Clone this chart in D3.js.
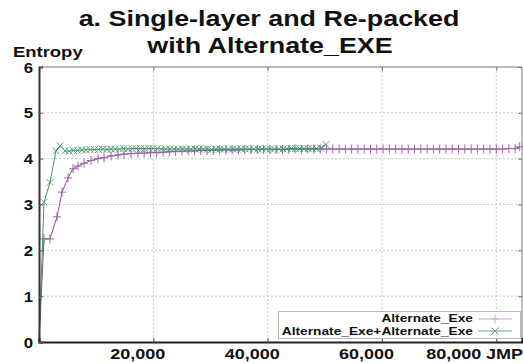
<!DOCTYPE html>
<html><head><meta charset="utf-8">
<script src="https://cdn.jsdelivr.net/npm/d3@7"></script>
<style>
html,body{margin:0;padding:0;background:#fff;}
text{font-family:"Liberation Sans",Arial,sans-serif;font-weight:bold;fill:#111;}
</style></head>
<body><svg id="c" width="523" height="364"></svg>
<script>
const titleLines = ["a. Single-layer and Re-packed", "with Alternate_EXE"];
const yTitle = "Entropy";
const xTitle = "JMP";
const seriesNames = ["Alternate_Exe", "Alternate_Exe+Alternate_Exe"];
const xTicks = [20000, 40000, 60000, 80000];
const yTicks = [0, 1, 2, 3, 4, 5, 6];

const exeX = [0,875,1925,3150,4025,5075,5950,6825,7875,9100,10325,11375,12600,13825,14875,16100,17325,18400,19500,20600,21700,22800,23900,25000,26100,27200,28300,29400,30500,31600,32700,33800,34900,36000,37100,38200,39300,40400,41500,42600,43700,44800,45900,47000,48100,49200,50300,51400,52500,53600,54700,55800,56900,58000,59100,60200,61300,62400,63500,64600,65700,66800,67900,69000,70100,71200,72300,73400,74500,75600,76700,77800,78900,80000,81100,82200,83300,84100];
const exeY = [0,2.25,2.25,2.73,3.27,3.58,3.78,3.84,3.9,3.96,4.0,4.02,4.06,4.08,4.1,4.11,4.12,4.12,4.13,4.13,4.14,4.15,4.16,4.16,4.17,4.17,4.18,4.18,4.18,4.19,4.19,4.19,4.19,4.2,4.2,4.2,4.2,4.2,4.2,4.2,4.2,4.21,4.2,4.21,4.21,4.21,4.21,4.21,4.21,4.21,4.21,4.21,4.21,4.21,4.21,4.21,4.21,4.21,4.21,4.21,4.21,4.21,4.21,4.21,4.21,4.21,4.21,4.21,4.21,4.21,4.21,4.21,4.21,4.21,4.21,4.22,4.22,4.26];

const dblX = [0,875,1925,2975,3700,4550,5300,6000,6750,7500,8200,8950,9700,10400,11150,11900,12600,13350,14100,14800,15550,16300,17000,17750,18500,19200,19950,20700,21400,22150,22900,23600,24350,25100,25800,26550,27300,28000,28750,29500,30200,30950,31700,32400,33150,33900,34600,35350,36100,36800,37550,38300,39000,39750,40500,41200,41950,42700,43400,44150,44900,45600,46350,47100,47800,48550,49300,50200];
const dblY = [0,3.05,3.48,4.17,4.28,4.17,4.16,4.18,4.18,4.19,4.19,4.2,4.2,4.2,4.21,4.2,4.21,4.21,4.21,4.22,4.21,4.22,4.22,4.22,4.22,4.22,4.22,4.22,4.21,4.21,4.21,4.21,4.21,4.21,4.21,4.21,4.21,4.21,4.21,4.21,4.2,4.21,4.21,4.21,4.21,4.21,4.21,4.21,4.21,4.21,4.21,4.21,4.21,4.21,4.21,4.21,4.21,4.21,4.22,4.22,4.22,4.22,4.22,4.22,4.22,4.22,4.23,4.31];

const colExe = "#8a4a95", colExeMark = "#9c62a6";
const colDbl = "#3f9567";
const SX = 1.2;

const svg = d3.select("#c");
const L = 39, R = 522, T = 67, B = 342;
const x = d3.scaleLinear().domain([0, 84500]).range([L, R]);
const y = d3.scaleLinear().domain([0, 6]).range([B, T]);

function stext(str, px, py, size, anchor, sx) {
  svg.append("text").attr("transform", `translate(${px},${py}) scale(${sx},1)`)
    .attr("text-anchor", anchor).style("font-size", size + "px").text(str);
}

// title
stext(titleLines[0], 269, 26, 22, "middle", 1.222);
stext(titleLines[1], 270, 53, 22, "middle", 1.222);
stext(yTitle, 13, 57, 15, "start", 1.23);

// grid
const grid = svg.append("g");
grid.selectAll(".gx").data(xTicks).enter().append("line")
  .attr("x1", d => x(d)).attr("x2", d => x(d)).attr("y1", T).attr("y2", B)
  .attr("stroke", "#c8c8c8").attr("stroke-width", 1).attr("stroke-dasharray", "2,2");
grid.selectAll(".gy").data(yTicks.filter(d => d > 0 && d < 6)).enter().append("line")
  .attr("x1", L).attr("x2", R).attr("y1", d => y(d)).attr("y2", d => y(d))
  .attr("stroke", "#c8c8c8").attr("stroke-width", 1).attr("stroke-dasharray", "2,2");

// frame top/right
svg.append("line").attr("x1", L).attr("x2", R).attr("y1", T).attr("y2", T).attr("stroke", "#777").attr("stroke-width", 1);
svg.append("line").attr("x1", R).attr("x2", R).attr("y1", T).attr("y2", B).attr("stroke", "#777").attr("stroke-width", 1);
svg.append("g").attr("transform", `translate(0,${T})`)
  .call(d3.axisTop(x).tickValues(xTicks).tickSize(-4).tickFormat(""))
  .call(g => { g.select(".domain").remove(); g.selectAll("line").attr("stroke", "#777"); });
svg.append("g").attr("transform", `translate(${R},0)`)
  .call(d3.axisRight(y).tickValues(yTicks).tickSize(-4).tickFormat(""))
  .call(g => { g.select(".domain").remove(); g.selectAll("line").attr("stroke", "#777"); });

// series
const line = d3.line().x(d => x(d[0])).y(d => y(d[1]));
const exeData = exeX.map((v, i) => [v, exeY[i]]);
const dblData = dblX.map((v, i) => [v, dblY[i]]);
const plus = "M-4,0H4M0,-4.5V4.5";
const cross = "M-3.5,-3.5L3.5,3.5M-3.5,3.5L3.5,-3.5";

svg.append("path").datum(exeData).attr("d", line).attr("fill", "none").attr("stroke", colExe).attr("stroke-width", 1);
svg.append("g").selectAll("path").data(exeData.slice(1)).enter().append("path")
  .attr("transform", d => `translate(${x(d[0])},${y(d[1])})`).attr("d", plus)
  .attr("stroke", colExeMark).attr("stroke-width", 1).attr("fill", "none");

svg.append("path").datum(dblData).attr("d", line).attr("fill", "none").attr("stroke", colDbl).attr("stroke-width", 1);
svg.append("g").selectAll("path").data(dblData.slice(1)).enter().append("path")
  .attr("transform", d => `translate(${x(d[0])},${y(d[1])})`).attr("d", cross)
  .attr("stroke", colDbl).attr("stroke-width", 1).attr("fill", "none").attr("opacity", 0.85);

// axes
const fmt = d3.format(",");
const xa = svg.append("g").attr("transform", `translate(0,${B})`)
  .call(d3.axisBottom(x).tickValues(xTicks).tickSize(-4).tickPadding(0).tickFormat(fmt));
xa.select(".domain").attr("stroke", "#222").attr("stroke-width", 2);
xa.selectAll(".tick line").attr("stroke", "#555");
xa.selectAll(".tick text").attr("y", 0).attr("dy", 0)
  .attr("transform", d => `translate(${d === 80000 ? -43 : -16},17) scale(${SX},1)`)
  .style("font-size", "15px").attr("fill", "#111");
stext(xTitle, 486, 359, 15, "start", SX);

const ya = svg.append("g").attr("transform", `translate(${L},0)`)
  .call(d3.axisLeft(y).tickValues(yTicks).tickSize(-4).tickPadding(0).tickFormat(d3.format("d")));
ya.select(".domain").attr("stroke", "#333").attr("stroke-width", 2);
ya.selectAll(".tick line").attr("stroke", "#555");
ya.selectAll(".tick text").attr("x", -5).attr("dy", "0.36em")
  .attr("transform", `scale(${SX},1)`).style("font-size", "14px").attr("fill", "#111");

// legend
const lg = svg.append("g");
lg.append("rect").attr("x", 278.5).attr("y", 311.5).attr("width", 242).attr("height", 27)
  .attr("fill", "#fff").attr("stroke", "#bbb").attr("stroke-width", 1);
const legY = [322, 335];
seriesNames.forEach((n, i) => {
  svg.append("text").attr("transform", `translate(473,${legY[i]}) scale(1.25,1)`)
    .attr("text-anchor", "end").style("font-size", "11px").text(n);
});
lg.append("line").attr("x1", 478).attr("x2", 512).attr("y1", 319).attr("y2", 319).attr("stroke", "#c9a6d0").attr("stroke-width", 1);
lg.append("path").attr("transform", "translate(495,319)").attr("d", plus).attr("stroke", "#c9a6d0").attr("fill", "none");
lg.append("line").attr("x1", 478).attr("x2", 512).attr("y1", 331).attr("y2", 331).attr("stroke", "#5aa97a").attr("stroke-width", 1);
lg.append("path").attr("transform", "translate(495,331)").attr("d", cross).attr("stroke", "#5aa97a").attr("fill", "none");
</script></body></html>
